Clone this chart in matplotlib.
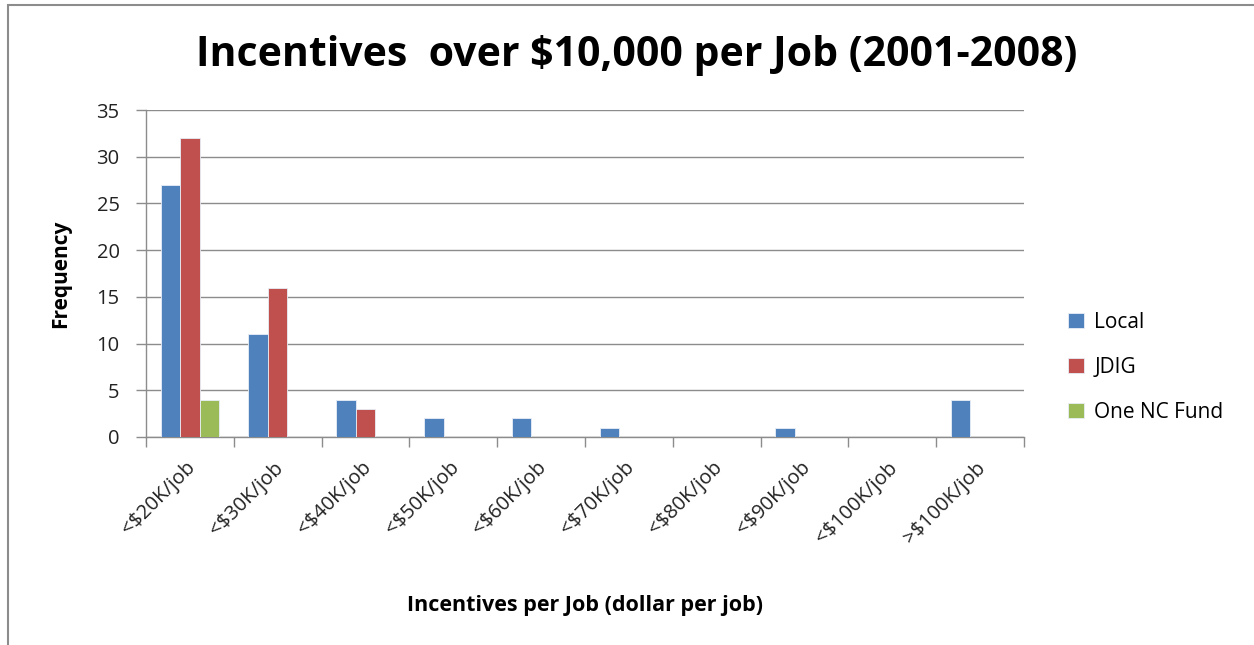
import matplotlib
matplotlib.use("Agg")
import matplotlib.pyplot as plt
import numpy as np
from matplotlib.patches import Rectangle

categories = ["<$20K/job", "<$30K/job", "<$40K/job", "<$50K/job", "<$60K/job",
              "<$70K/job", "<$80K/job", "<$90K/job", "<$100K/job", ">$100K/job"]
local = [27, 11, 4, 2, 2, 1, 0, 1, 0, 4]
jdig = [32, 16, 3, 0, 0, 0, 0, 0, 0, 0]
one_nc = [4, 0, 0, 0, 0, 0, 0, 0, 0, 0]
series_names = ["Local", "JDIG", "One NC Fund"]
colors = ["#4F81BD", "#C0504D", "#9BBB59"]

plt.rcParams['font.family'] = ['Open Sans', 'DejaVu Sans']

fig = plt.figure(figsize=(12.54, 6.45), dpi=100)
ax = fig.add_axes([146/1254, 1-437/645, (1024-146)/1254, (437-110)/645])

# chart border
fig.patches.append(Rectangle((8/1254, -0.1), 1.2, 1-5/645+0.1, transform=fig.transFigure,
                             fill=False, edgecolor="#8C8C8C", linewidth=1.5))

x = np.arange(len(categories))
w = 1/4.5
for i, (vals, name, c) in enumerate(zip([local, jdig, one_nc], series_names, colors)):
    ax.bar(x + (i-1)*w, vals, width=w, color=c, edgecolor="#E8EEF7", linewidth=0.6,
           label=name, zorder=3)

ax.set_xlim(-0.5, len(categories)-0.5)
ax.set_ylim(0, 35)
ax.set_yticks(range(0, 36, 5))
# label anchor nudged slightly right of the category centre (as in the reference)
ax.set_xticks(x + 0.11)
ax.set_xticklabels(categories, rotation=45, ha='right', rotation_mode='default', fontsize=14.5,
                   color="#222222")
ax.set_xticks(np.arange(-0.5, len(categories), 1), minor=True)
ax.tick_params(axis='x', which='major', length=0, pad=15)
ax.tick_params(axis='x', which='minor', length=7, color="#8C8C8C", width=1)
ax.tick_params(axis='y', length=7, color="#8C8C8C", width=1, labelsize=14.5, pad=12,
               labelcolor="#222222")
ax.grid(axis='y', color="#8C8C8C", linewidth=1, zorder=0)
for s in ['top', 'right']:
    ax.spines[s].set_visible(False)
for s in ['left', 'bottom']:
    ax.spines[s].set_color("#8C8C8C")
    ax.spines[s].set_linewidth(1)

ax.set_ylabel("Frequency", fontsize=15, fontweight='bold')
ax.yaxis.set_label_coords(-75/878, 0.5)
ax.set_xlabel("Incentives per Job (dollar per job)", fontsize=15.5, fontweight='bold')
ax.xaxis.set_label_coords(0.5, -(595-437)/327)

fig.text(0.508, 1-55/645, "Incentives  over $10,000 per Job (2001-2008)", ha='center', va='center',
         fontsize=29.5, fontweight='bold')

leg = ax.legend(loc='center left', bbox_to_anchor=(1.029, 0.213), frameon=False, fontsize=15,
                handlelength=0.75, handleheight=0.75, labelspacing=1.15, handletextpad=0.5)

fig.savefig("out.png", dpi=100)
